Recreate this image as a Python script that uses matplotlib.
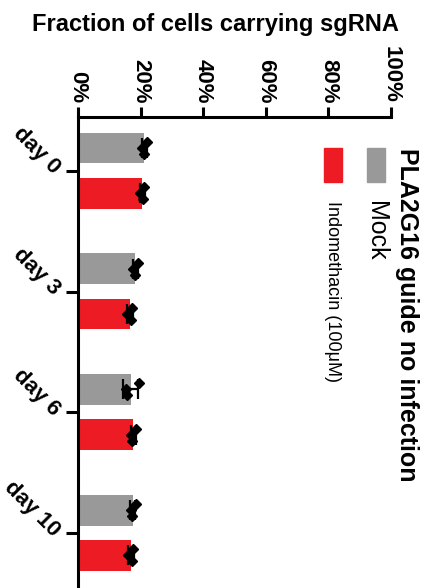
import numpy as np
import matplotlib
matplotlib.use("Agg")
import matplotlib.pyplot as plt
from matplotlib.patches import Rectangle
from matplotlib import font_manager

plt.rcParams['font.family'] = ['Liberation Sans', 'DejaVu Sans']

names = {f.name for f in font_manager.fontManager.ttflist}
narrow = 'Liberation Sans Narrow' in names

days = ["day 0", "day 3", "day 6", "day 10"]
series = ["Mock", "Indomethacin (100\u03bcM)"]
colors = ["#999999", "#ed1c24"]
mock_pts = [[22.0, 20.4, 21.1], [19.2, 17.6, 18.2], [19.5, 15.3, 15.6], [18.4, 16.9, 17.3]]
indo_pts = [[21.1, 19.8, 20.8], [17.3, 15.7, 16.9], [18.5, 17.0, 17.3], [17.6, 16.0, 17.3]]
xticks = [0, 20, 40, 60, 80, 100]
xlabels = ["0%", "20%", "40%", "60%", "80%", "100%"]

W, H = 429, 588
fig = plt.figure(figsize=(W / 100, H / 100), dpi=100)

def fx(px):
    return px / W

def fy(py):
    return 1 - py / H

ax = fig.add_axes([fx(78), 0.0, fx(391) - fx(78), fy(117)])

offsets = [-0.19, 0.185]
bar_h = 0.255
pt_off = np.array([-0.05, 0.0, 0.05])
idx = np.arange(len(days))
for s, pts in enumerate([mock_pts, indo_pts]):
    pts = np.array(pts)
    means = pts.mean(axis=1)
    sds = pts.std(axis=1, ddof=1)
    ypos = idx + offsets[s]
    ax.barh(ypos, means, height=bar_h, color=colors[s], zorder=2)
    ax.errorbar(means, ypos, xerr=sds, fmt='none', ecolor='black',
                elinewidth=1.6, capsize=7, capthick=1.6, zorder=3)
    for i in range(len(days)):
        ax.plot(pts[i], ypos[i] + pt_off, linestyle='none', marker='D',
                markersize=5.5, color='black', zorder=4)

ax.set_xlim(0, 100)
ax.set_ylim(3 + 55 / 121, -54 / 121)
ax.xaxis.tick_top()
ax.set_xticks(xticks)
ax.set_xticklabels(xlabels, fontsize=16, fontweight='bold')
ax.tick_params(axis='x', labelrotation=-90, length=7, width=2.2, pad=3)
ax.set_yticks(idx)
ax.set_yticklabels(days, fontsize=16, fontweight='bold', rotation=-45,
                   ha='right', va='center', rotation_mode='anchor')
ax.tick_params(axis='y', length=8.5, width=2.2, pad=7)
for sp in ['right', 'bottom']:
    ax.spines[sp].set_visible(False)
for sp in ['top', 'left']:
    ax.spines[sp].set_linewidth(2.2)

fig.text(fx(215), fy(25), "Fraction of cells carrying sgRNA", fontsize=17,
         fontweight='bold', ha='center', va='center')

# legend (rotated)
fig.text(fx(407), fy(148), "PLA2G16 guide no infection", fontsize=18,
         fontweight='bold', rotation=-90, ha='center', va='top')
leg_x = [376, 333]
if narrow:
    leg_fam = [['Liberation Sans', 'DejaVu Sans'], ['Liberation Sans Narrow', 'DejaVu Sans']]
    leg_fs = [18, 15.5]
else:
    leg_fam = [['Liberation Sans', 'DejaVu Sans'], ['Liberation Sans', 'DejaVu Sans']]
    leg_fs = [18, 13]
for s in range(2):
    fig.patches.append(Rectangle((fx(leg_x[s] - 9), fy(182)), fx(18), 34 / H,
                                 transform=fig.transFigure, color=colors[s]))
    fig.text(fx(leg_x[s]), fy(201), series[s], fontsize=leg_fs[s], rotation=-90,
             ha='center', va='top', family=leg_fam[s])

fig.savefig("out.png", dpi=100)
